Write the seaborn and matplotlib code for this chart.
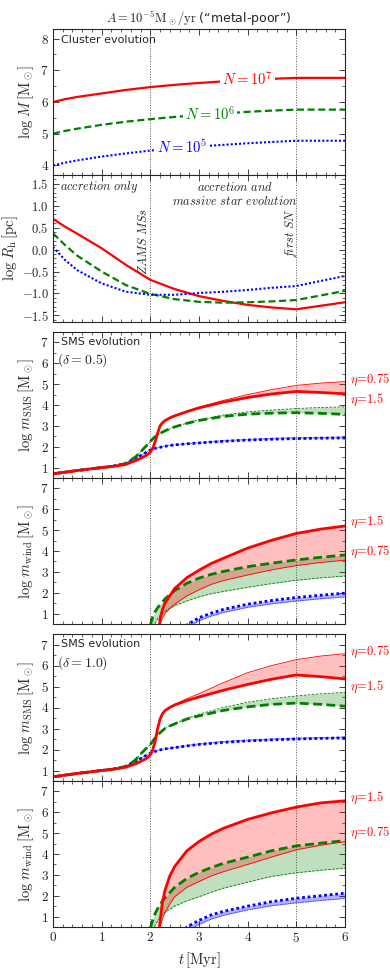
import matplotlib
matplotlib.use('Agg')
import matplotlib.pyplot as plt
from matplotlib.ticker import MultipleLocator, FuncFormatter
import seaborn as sns

# ---- panel 1: cluster mass
t_cluster = [0, 0.25, 0.5, 1.0, 1.5, 2.0, 2.5, 3.0, 3.5, 4.0, 4.5, 5.0, 5.5, 6.0]
logM_N1e7 = [6.00, 6.09, 6.16, 6.27, 6.38, 6.47, 6.54, 6.60, 6.65, 6.70, 6.73, 6.76, 6.76, 6.76]
logM_N1e6 = [5.00, 5.09, 5.16, 5.28, 5.38, 5.46, 5.53, 5.59, 5.64, 5.69, 5.73, 5.76, 5.76, 5.76]
logM_N1e5 = [4.00, 4.09, 4.16, 4.28, 4.38, 4.47, 4.54, 4.60, 4.65, 4.70, 4.74, 4.78, 4.78, 4.78]

# ---- panel 2: half-mass radius
t_radius = [0, 0.25, 0.5, 1.0, 1.5, 2.0, 2.5, 3.0, 3.5, 4.0, 4.5, 5.0, 6.0]
logR_N1e7 = [0.70, 0.52, 0.36, 0.03, -0.35, -0.69, -0.90, -1.06, -1.17, -1.26, -1.32, -1.36, -1.20]
logR_N1e6 = [0.37, 0.10, -0.14, -0.50, -0.81, -1.01, -1.13, -1.19, -1.21, -1.20, -1.18, -1.15, -0.94]
logR_N1e5 = [0.06, -0.24, -0.47, -0.77, -0.96, -1.03, -1.03, -0.99, -0.96, -0.92, -0.87, -0.83, -0.60]

# ---- SMS mass panels (thick: eta=1.5, thin: eta=0.75)
t_sms = [0, 0.5, 1.0, 1.25, 1.5, 1.6, 1.7, 1.8, 1.9, 1.95, 2.0, 2.05, 2.1, 2.15,
         2.2, 2.25, 2.3, 2.4, 2.5, 2.75, 3.0, 3.5, 4.0, 4.5, 5.0, 5.5, 6.0]

sms05_red_eta15 = [0.70, 0.86, 1.00, 1.06, 1.15, 1.25, 1.33, 1.44, 1.56, 1.64, 1.74, 1.92, 2.25, 2.65,
                   3.00, 3.15, 3.25, 3.38, 3.48, 3.68, 3.86, 4.14, 4.36, 4.53, 4.65, 4.60, 4.54]
sms05_red_eta075 = [0.70, 0.86, 1.00, 1.06, 1.15, 1.25, 1.33, 1.44, 1.56, 1.64, 1.74, 1.92, 2.25, 2.65,
                    3.00, 3.15, 3.25, 3.38, 3.48, 3.70, 3.90, 4.22, 4.50, 4.74, 4.94, 5.05, 5.12]
sms05_green_eta15 = [0.70, 0.86, 1.00, 1.07, 1.20, 1.36, 1.52, 1.75, 2.00, 2.12, 2.25, 2.38, 2.48, 2.56,
                     2.63, 2.70, 2.76, 2.86, 2.95, 3.12, 3.26, 3.45, 3.56, 3.61, 3.63, 3.60, 3.55]
sms05_green_eta075 = [0.70, 0.86, 1.00, 1.07, 1.20, 1.36, 1.52, 1.75, 2.00, 2.12, 2.25, 2.38, 2.48, 2.56,
                      2.63, 2.70, 2.76, 2.86, 2.95, 3.13, 3.29, 3.52, 3.67, 3.76, 3.83, 3.88, 3.91]
sms05_blue_eta15 = [0.70, 0.86, 1.00, 1.08, 1.20, 1.33, 1.43, 1.57, 1.71, 1.78, 1.84, 1.88, 1.92, 1.95,
                    1.97, 2.00, 2.02, 2.06, 2.09, 2.14, 2.18, 2.26, 2.32, 2.36, 2.39, 2.41, 2.42]
sms05_blue_eta075 = [0.70, 0.86, 1.00, 1.08, 1.20, 1.33, 1.43, 1.57, 1.71, 1.78, 1.84, 1.88, 1.92, 1.95,
                     1.97, 2.00, 2.02, 2.06, 2.09, 2.15, 2.20, 2.29, 2.35, 2.40, 2.43, 2.45, 2.46]

sms10_red_eta15 = [0.70, 0.86, 1.00, 1.06, 1.16, 1.24, 1.32, 1.43, 1.55, 1.63, 1.75, 1.98, 2.40, 3.00,
                   3.45, 3.70, 3.85, 4.00, 4.12, 4.33, 4.50, 4.82, 5.10, 5.35, 5.55, 5.47, 5.36]
sms10_red_eta075 = [0.70, 0.86, 1.00, 1.06, 1.16, 1.24, 1.32, 1.43, 1.55, 1.63, 1.75, 1.98, 2.40, 3.00,
                    3.45, 3.70, 3.85, 4.00, 4.15, 4.42, 4.66, 5.18, 5.66, 6.00, 6.28, 6.45, 6.56]
sms10_green_eta15 = [0.70, 0.86, 1.00, 1.07, 1.20, 1.34, 1.52, 1.78, 2.02, 2.12, 2.24, 2.40, 2.55, 2.68,
                     2.80, 2.90, 3.00, 3.12, 3.22, 3.45, 3.60, 3.86, 4.03, 4.15, 4.21, 4.15, 4.06]
sms10_green_eta075 = [0.70, 0.86, 1.00, 1.07, 1.20, 1.34, 1.52, 1.78, 2.02, 2.12, 2.24, 2.40, 2.55, 2.68,
                      2.80, 2.90, 3.00, 3.12, 3.22, 3.48, 3.68, 4.00, 4.25, 4.42, 4.55, 4.65, 4.72]
sms10_blue_eta15 = [0.70, 0.86, 1.00, 1.08, 1.20, 1.33, 1.43, 1.57, 1.70, 1.76, 1.82, 1.87, 1.91, 1.95,
                    1.98, 2.01, 2.03, 2.06, 2.09, 2.17, 2.24, 2.34, 2.41, 2.46, 2.50, 2.53, 2.55]
sms10_blue_eta075 = [0.70, 0.86, 1.00, 1.08, 1.20, 1.33, 1.43, 1.57, 1.70, 1.76, 1.82, 1.87, 1.91, 1.95,
                     1.98, 2.01, 2.03, 2.06, 2.10, 2.19, 2.27, 2.38, 2.45, 2.50, 2.54, 2.57, 2.59]

# ---- wind mass panels (values below the axis are clipped)
t_wind = [2.0, 2.05, 2.1, 2.15, 2.2, 2.25, 2.3, 2.4, 2.5, 2.75, 3.0, 3.25, 3.5, 4.0, 4.5, 5.0, 5.5, 6.0]

wind05_red_eta15 = [-1, -1, -1, -0.5, 0.75, 1.2, 1.5, 1.85, 2.2, 2.72, 3.08, 3.4, 3.65, 4.14, 4.52, 4.84, 5.05, 5.2]
wind05_red_eta075 = [-1, -1, -1, -0.5, 0.5, 0.8, 1.0, 1.25, 1.45, 1.85, 2.14, 2.4, 2.58, 2.85, 3.1, 3.3, 3.45, 3.56]
wind05_green_eta15 = [0.45, 0.85, 1.1, 1.28, 1.42, 1.55, 1.7, 1.9, 2.1, 2.45, 2.7, 2.88, 3.02, 3.25, 3.42, 3.57, 3.70, 3.81]
wind05_green_eta075 = [-1, 0.3, 0.55, 0.75, 0.9, 1.0, 1.1, 1.25, 1.38, 1.6, 1.8, 1.95, 2.06, 2.26, 2.44, 2.6, 2.71, 2.8]
wind05_blue_eta15 = [-1, -1, -1, -1, -1, -1, -1, -1, -1, 0.45, 0.8, 1.02, 1.2, 1.45, 1.63, 1.77, 1.88, 1.98]
wind05_blue_eta075 = [-1, -1, -1, -1, -1, -1, -1, -1, -1, 0.3, 0.66, 0.88, 1.05, 1.3, 1.47, 1.6, 1.71, 1.8]

wind10_red_eta15 = [-1, -1, -1, -0.5, 0.8, 1.7, 2.25, 2.95, 3.4, 4.15, 4.6, 4.95, 5.23, 5.66, 5.98, 6.25, 6.45, 6.55]
wind10_red_eta075 = [-1, -1, -1, -0.5, 0.5, 0.9, 1.2, 1.6, 1.95, 2.4, 2.68, 2.95, 3.15, 3.5, 3.86, 4.2, 4.42, 4.59]
wind10_green_eta15 = [0.45, 0.85, 1.15, 1.38, 1.58, 1.75, 1.9, 2.15, 2.4, 2.83, 3.12, 3.35, 3.55, 3.85, 4.16, 4.39, 4.52, 4.64]
wind10_green_eta075 = [-1, 0.3, 0.6, 0.8, 0.95, 1.08, 1.2, 1.35, 1.5, 1.75, 1.95, 2.16, 2.36, 2.65, 2.93, 3.1, 3.22, 3.32]
wind10_blue_eta15 = [-1, -1, -1, -1, -1, -1, -1, -1, -1, 0.5, 0.82, 1.08, 1.25, 1.5, 1.72, 1.88, 2.0, 2.12]
wind10_blue_eta075 = [-1, -1, -1, -1, -1, -1, -1, -1, -1, 0.3, 0.62, 0.88, 1.06, 1.32, 1.52, 1.66, 1.77, 1.87]

RED, GREEN, BLUE = '#ff0000', '#008000', '#0000ff'
DASH = (0, (3.2, 1.6))
DOT = (0, (1, 1))

sns.set_style('ticks')
plt.rcParams['font.family'] = ['DejaVu Sans']
plt.rcParams['mathtext.fontset'] = 'cm'
plt.rcParams['axes.linewidth'] = 0.8

fig = plt.figure(figsize=(3.9, 9.76), dpi=100)
panel_px = [(29, 175), (175, 322), (332, 478), (478, 624), (634, 781), (781, 927)]
axes = [fig.add_axes([53 / 390, 1 - b / 976, 292 / 390, (b - t) / 976]) for t, b in panel_px]


def style_axis(ax, ylim, ymaj, ymin, fmt):
    ax.set_xlim(0, 6)
    ax.set_ylim(*ylim)
    ax.xaxis.set_major_locator(MultipleLocator(1))
    ax.xaxis.set_minor_locator(MultipleLocator(0.2))
    ax.yaxis.set_major_locator(MultipleLocator(ymaj))
    ax.yaxis.set_minor_locator(MultipleLocator(ymin))
    ax.yaxis.set_major_formatter(FuncFormatter(lambda v, p: '$' + fmt.format(v) + '$'))
    ax.xaxis.set_major_formatter(FuncFormatter(lambda v, p: '$%d$' % round(v)))
    ax.tick_params(which='both', direction='in', top=True, right=True, labelsize=9.5,
                   colors='#222222', pad=3)
    ax.tick_params(which='major', length=4, width=0.6)
    ax.tick_params(which='minor', length=2, width=0.5)
    for tv in (2, 5):
        ax.axvline(tv, color='#555555', ls=':', lw=0.7, zorder=0)


def draw_band(ax, t, thick, thin, color, ls, alpha):
    ax.fill_between(t, thick, thin, color=color, alpha=alpha, lw=0)
    sns.lineplot(x=t, y=thin, ax=ax, color=color, lw=0.6, linestyle=ls, estimator=None, sort=False)
    sns.lineplot(x=t, y=thick, ax=ax, color=color, lw=2.0, linestyle=ls, estimator=None, sort=False)


# panel 1
ax = axes[0]
sns.lineplot(x=t_cluster, y=logM_N1e7, ax=ax, color=RED, lw=1.6, estimator=None, sort=False)
sns.lineplot(x=t_cluster, y=logM_N1e6, ax=ax, color=GREEN, lw=1.6, linestyle=DASH, estimator=None, sort=False)
sns.lineplot(x=t_cluster, y=logM_N1e5, ax=ax, color=BLUE, lw=1.5, linestyle=DOT, estimator=None, sort=False)
box = dict(facecolor='white', edgecolor='none', pad=1.5)
ax.text(4.0, 6.74, r'$N = 10^7$', color=RED, fontsize=10.5, ha='center', va='center', bbox=box, zorder=5)
ax.text(3.22, 5.64, r'$N = 10^6$', color=GREEN, fontsize=10.5, ha='center', va='center', bbox=box, zorder=5)
ax.text(2.65, 4.57, r'$N = 10^5$', color=BLUE, fontsize=10.5, ha='center', va='center', bbox=box, zorder=5)
ax.text(0.027, 0.96, 'Cluster evolution', transform=ax.transAxes, fontsize=8, ha='left', va='top')
style_axis(ax, (3.7, 8.3), 1, 0.5, '{:g}')
ax.set_ylabel(r'$\log\,M\,[\mathrm{M}_\odot]$', fontsize=10.5, labelpad=3)
ax.set_title(r'$A = 10^{-5}\mathrm{M}_\odot/\mathrm{yr}$ (“metal-poor”)', fontsize=9, pad=4)

# panel 2
ax = axes[1]
sns.lineplot(x=t_radius, y=logR_N1e7, ax=ax, color=RED, lw=1.6, estimator=None, sort=False)
sns.lineplot(x=t_radius, y=logR_N1e6, ax=ax, color=GREEN, lw=1.6, linestyle=DASH, estimator=None, sort=False)
sns.lineplot(x=t_radius, y=logR_N1e5, ax=ax, color=BLUE, lw=1.5, linestyle=DOT, estimator=None, sort=False)
ax.text(0.95, 1.42, r'$\mathit{accretion\ only}$', fontsize=8.8, ha='center', va='center')
ax.text(3.74, 1.42, r'$\mathit{accretion\ and}$', fontsize=8.8, ha='center', va='center')
ax.text(3.74, 1.10, r'$\mathit{massive\ star\ evolution}$', fontsize=8.8, ha='center', va='center')
ax.text(1.86, 0.18, r'$\mathit{ZAMS\ MSs}$', fontsize=8.8, ha='center', va='center', rotation=90)
ax.text(4.9, 0.37, r'$\mathit{first\ SN}$', fontsize=8.8, ha='center', va='center', rotation=90)
style_axis(ax, (-1.65, 1.7), 0.5, 0.1, '{:.1f}')
ax.tick_params(axis='y', labelsize=9)
ax.set_ylabel(r'$\log\,R_\mathrm{h}\,[\mathrm{pc}]$', fontsize=10.5, labelpad=1)

# panels 3-6
band_panels = [
    (axes[2], t_sms, [(sms05_red_eta15, sms05_red_eta075), (sms05_green_eta15, sms05_green_eta075),
                      (sms05_blue_eta15, sms05_blue_eta075)]),
    (axes[3], t_wind, [(wind05_red_eta15, wind05_red_eta075), (wind05_green_eta15, wind05_green_eta075),
                       (wind05_blue_eta15, wind05_blue_eta075)]),
    (axes[4], t_sms, [(sms10_red_eta15, sms10_red_eta075), (sms10_green_eta15, sms10_green_eta075),
                      (sms10_blue_eta15, sms10_blue_eta075)]),
    (axes[5], t_wind, [(wind10_red_eta15, wind10_red_eta075), (wind10_green_eta15, wind10_green_eta075),
                       (wind10_blue_eta15, wind10_blue_eta075)]),
]
for ax, t, series in band_panels:
    (r1, r2), (g1, g2), (b1, b2) = series
    draw_band(ax, t, b1, b2, BLUE, DOT, 0.3)
    draw_band(ax, t, g1, g2, GREEN, DASH, 0.25)
    draw_band(ax, t, r1, r2, RED, '-', 0.25)
    style_axis(ax, (0.5, 7.5), 1, 0.5, '{:g}')

sms_label = r'$\log\,m_\mathrm{SMS}\,[\mathrm{M}_\odot]$'
wind_label = r'$\log\,m_\mathrm{wind}\,[\mathrm{M}_\odot]$'
for ax, lab in zip(axes[2:], [sms_label, wind_label, sms_label, wind_label]):
    ax.set_ylabel(lab, fontsize=10.5, labelpad=3)

axes[2].text(0.027, 0.965, 'SMS evolution', transform=axes[2].transAxes, fontsize=8, ha='left', va='top')
axes[2].text(0.015, 0.81, r'$(\delta = 0.5)$', transform=axes[2].transAxes, fontsize=10, ha='left', va='center')
axes[4].text(0.027, 0.965, 'SMS evolution', transform=axes[4].transAxes, fontsize=8, ha='left', va='top')
axes[4].text(0.015, 0.80, r'$(\delta = 1.0)$', transform=axes[4].transAxes, fontsize=10, ha='left', va='center')

eta_labels = [(axes[2], 5.2, 4.24, False), (axes[3], 5.39, 3.95, True),
              (axes[4], 6.66, 4.99, False), (axes[5], 6.68, 5.0, True)]
for ax, y_top, y_bot, wind in eta_labels:
    top_txt, bot_txt = (r'$\eta\!=\!1.5$', r'$\eta\!=\!0.75$') if wind else (r'$\eta\!=\!0.75$', r'$\eta\!=\!1.5$')
    ax.text(6.1, y_top, top_txt, color=RED, fontsize=9, ha='left', va='center', clip_on=False)
    ax.text(6.1, y_bot, bot_txt, color=RED, fontsize=9, ha='left', va='center', clip_on=False)

for ax in axes[:-1]:
    ax.tick_params(labelbottom=False)
for ax in axes:
    ax.set_xlabel('')
axes[-1].set_xlabel(r'$t\,[\mathrm{Myr}]$', fontsize=10.5, labelpad=4)

fig.savefig('out.png', dpi=100)
